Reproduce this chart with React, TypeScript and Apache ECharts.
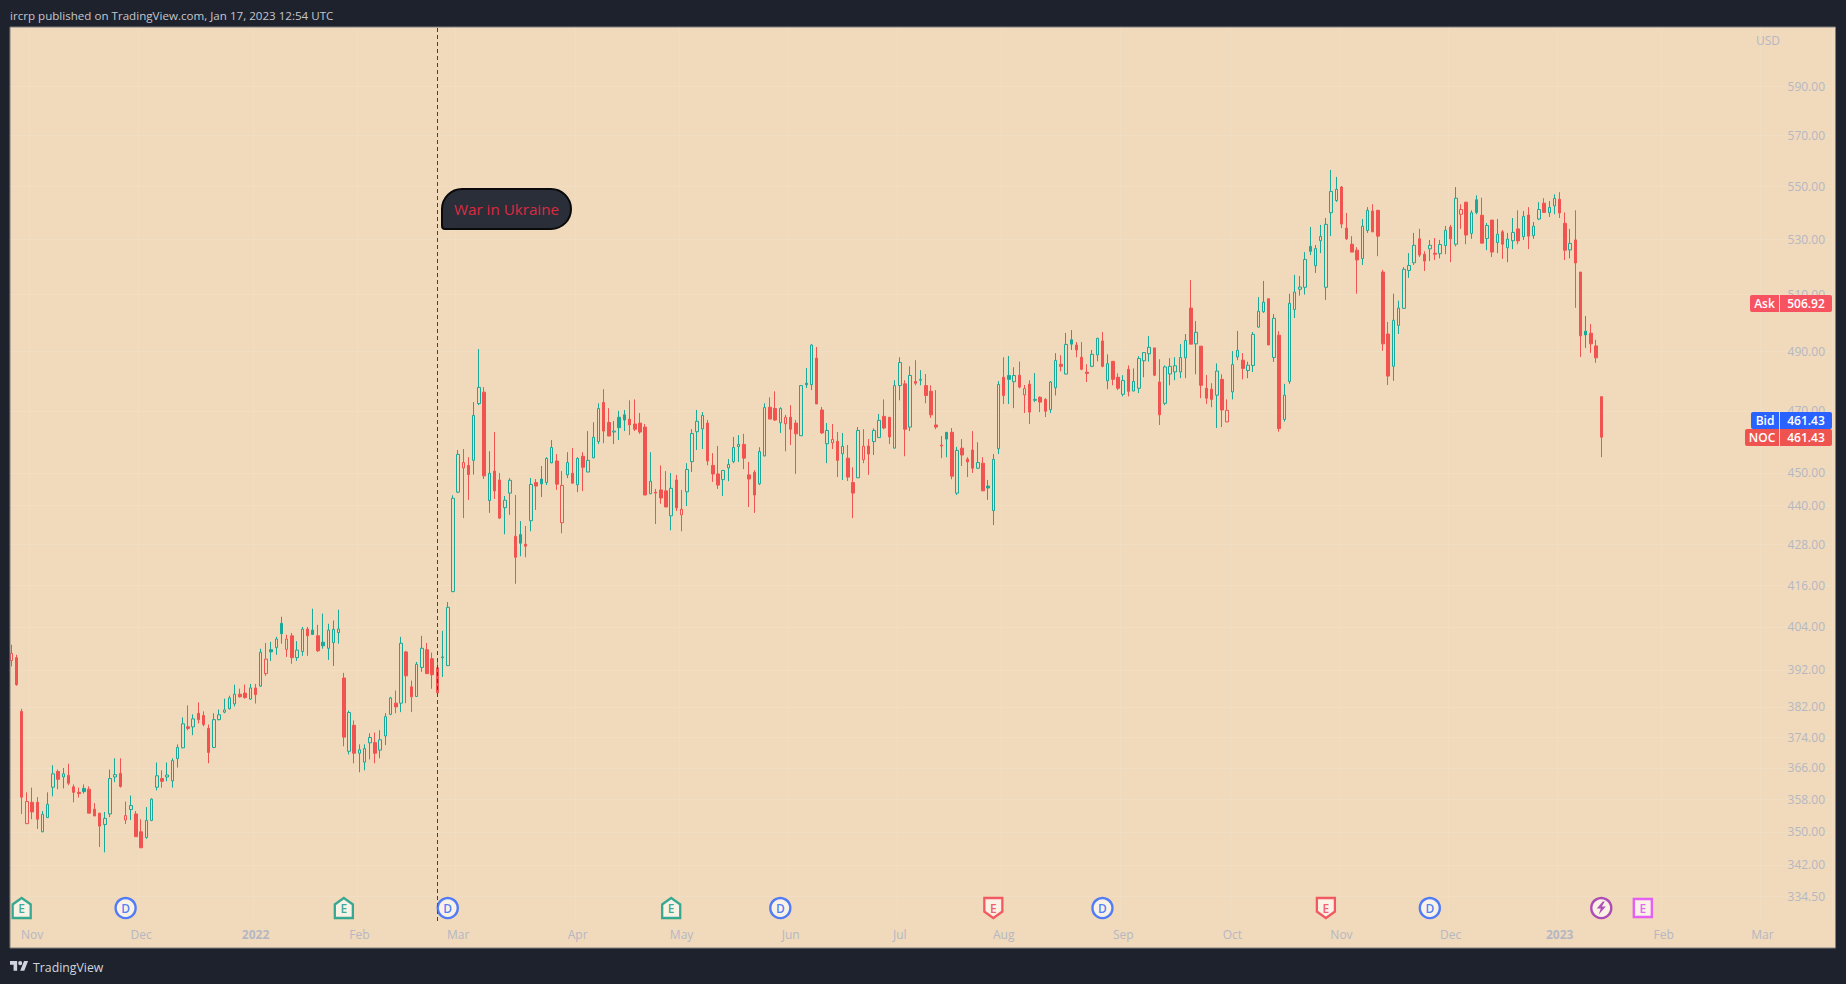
import React, { useEffect, useRef } from "react";
import * as echarts from "echarts";

// Each candle: [open, high, low, close]
const candlesLateOct2021ToNov: number[][] = [
  [394.6,399,393,396.6],[395.4,396.2,387.7,388],[380.8,381.5,354.4,358.6],[352,359.8,352,357.5],[357.3,361,353.1,354.9],
  [357.3,358.6,350.7,353.1],[350,355.1,349.9,354.3],[353.5,359.8,353.5,356.8],[361.1,366.7,358.8,364.5],[365.1,365.6,360.6,363.1],
  [363.7,366,360.8,364.5],[364.1,367.1,361.6,362.1],[361.2,361.8,357.3,359.8],[359.8,361,358.5,359.5],[360.8,361.8,359.5,360],
  [360.6,361.3,354.6,354.6],[355.6,357.1,353.9,353.9],[354.6,354.6,346.3,351.4],[351.8,354.9,345,353.3],[354.4,365.6,353.6,363.3],
  [363.7,368.5,362.4,364.3],[364.6,368.5,361,361.3],[352.9,357.5,351.9,354],[355.5,359,352.9,356.5],[354.4,355.1,348.8,348.8],
];
const candlesDec2021: number[][] = [
  [350,353.1,346.1,346.1],[348.6,356.1,348.3,352.8],[352.8,358.3,352.6,358.1],[361.1,367.4,360.3,364],[363.3,365.4,361,362.6],
  [363.7,367.4,362.6,364.2],[362.7,368.5,361,367.9],[368.4,372.1,366.1,371.3],[371.2,379.2,371.1,377.5],[376.7,382.4,375.8,376.3],
  [376.7,380,374.5,378.8],[380.3,383.2,377.6,378.6],[379.7,380.8,376.8,377.3],[376.3,377.3,367.2,370],[371.3,380.3,371.1,378.6],
  [378.6,381.3,378.4,379.9],[380.6,384.2,380.3,381.2],[381.5,385,381.3,384.4],[382.8,388,382.1,385.4],[385.4,386.9,384.5,384.7],
  [385.7,388,384.2,384.5],[384.1,388.2,383.9,387.1],
];
const candlesJan2022: number[][] = [
  [387.1,388.2,382.9,385.3],[387.6,397.9,387.4,396.9],[391,399.5,390.4,395],[397.6,399.8,394.5,397],[398.2,401.2,396.2,400.6],
  [405,406.9,399.3,402.1],[397.7,401.8,395.6,400.6],[401.5,402.3,393.7,395.4],[395.4,400,394.5,397.5],[397.1,404,395.9,403.4],
  [403.4,404,395.9,401.5],[403.1,409.2,401.8,401.9],[401.5,404.6,397,397.3],[399.7,407.8,397.9,398.7],[398,404.9,394.8,403.1],
  [399.6,405.8,393.1,403.3],[402.4,408.9,399.3,403.4],[389.8,391.2,371.6,374],[370.3,381,369.5,380.5],[377.1,378.4,367.2,369.8],
];
const candlesFeb2022: number[][] = [
  [369.8,372.1,364.9,370.7],[367.5,372.1,365.4,371],[372.5,375,368.2,373.9],[372.6,375.2,367.2,369.8],[370.6,375.8,368.5,373.3],
  [374.3,380.3,371.9,379.4],[380,384.7,379.8,384.4],[383,386.4,380.3,382],[383,401.2,380.6,399.4],[397,397.3,383,390.4],
  [387.4,389.1,380.6,384.7],[384.8,394.2,384.7,393.6],[392.7,401.5,391.5,398],[397.6,399.5,391,391],[395.1,396.8,386.9,390.7],
  [392.6,394.8,385.8,385.8],[395.4,402.9,390.1,395.6],[393.2,411.1,393.1,409.6],[414.1,443,414,442.1],
];
const candlesMar2022: number[][] = [
  [444,457.3,443.7,455.9],[451.6,457.6,436,453.3],[452.4,455,441.6,449.5],[454,472.9,449.5,468.5],[472.4,490.8,471.9,477.8],
  [476.2,477.9,448.1,449.1],[441.4,456.9,437.6,449.9],[450.6,463.1,441.9,444.4],[447.8,450,435.7,436],[439.2,442.8,431.1,441.5],
  [443.7,448.4,437,447.7],[430.5,443.1,416.4,424.2],[431,435.1,424.5,428.4],[428.1,433.6,424.2,427.5],[435.2,448.4,432,446.4],
  [447,448.1,438.5,445.9],[448.1,452.2,442.5,446.6],[447,455,446.2,454.6],[453.2,460.5,453.1,458.1],[453.8,456,444.7,446.5],
  [434.6,450.6,431.4,446.1],[449.4,456.6,448.4,453.3],[449.9,457.9,446.8,446.8],
];
const candlesApr2022: number[][] = [
  [446.3,455,444,454.6],[455.3,456.6,444.3,451.8],[450.3,463.4,450.3,454],[454.8,466.3,454.7,461.4],[460,472.5,459.2,470.8],
  [472.8,477.2,459.5,463.4],[466.2,470.9,461.8,461.8],[463.1,466.7,459.2,463.4],[467.9,470,460.5,464.5],[468.7,470.3,463.4,467],
  [467.3,473.5,462.1,465.4],[465.7,473.8,463.4,464],[466,469.3,462.5,463.1],[464.7,465.7,443.1,443.1],[443.5,456.6,443.4,447.4],
  [444,445,434.2,443.7],[444.7,452.4,440.4,442.2],[444.4,450.6,439.4,439.4],[436.7,450,432.3,445.2],[447.8,449.4,438.2,439.1],
];
const candlesMay2022: number[][] = [
  [437,444.7,432,438.7],[444.1,453.1,439.7,451.1],[453.6,464,450.3,462.6],[463.2,470.3,457.3,466.6],[464.1,469.6,457.6,468.5],
  [466,467,452.4,453.8],[452.4,456.3,447.2,449.7],[449.7,458.6,445,446.2],[447.9,450.9,442.8,450.8],[451.6,454.4,447.4,452.7],
  [453.6,461.5,453.1,458.1],[458.4,462.1,453.5,459.1],[459.1,462.5,451.2,454.7],[449.4,453.5,439.4,448.1],[450.2,450.9,437.6,443.1],
  [446.6,458.2,446.2,456.8],[455.4,472.5,455.3,471.1],[471.2,474.5,467.3,467.3],[470.8,476.5,466.7,467],[466.1,471.2,462.8,470.8],
  [465.8,468.7,456.9,467.9],
];
const candlesJun2022: number[][] = [
  [467.9,471.9,458.9,464],[466,467,449.7,462.5],[461.9,478.6,461.8,478.4],[479.2,484.3,477.6,478.7],[478.7,492.5,476.9,492.2],
  [487.7,491.5,472.3,472.3],[470.3,471.3,462.5,462.8],[459.3,466,453.1,463.6],[459.6,465.7,457.6,460.7],[460.1,463.1,448.7,454],
  [456.1,462.8,447.8,458.5],[454.7,458.9,447.5,448.7],[447,451.8,436,443.7],[448.5,464.7,448.4,463.6],[454.2,464,453.1,458.5],
  [458.6,460.8,449.4,456],[460,464.3,455.7,463.6],[461.3,469,461.2,466.9],[468.2,473.8,464,464.4],[467.9,467.9,459.2,461.5],
  [457.9,480.2,457.8,478.4],
];
const candlesJul2022: number[][] = [
  [478.4,488,473.5,486.2],[479,480.2,455.3,464],[464.7,484.9,463.4,481.8],[479.8,487,478.5,479.2],[480.2,483.6,478.5,480.5],
  [478.4,482.3,472.5,475.1],[476.5,478.5,467.7,468.7],[465.4,476.9,464,464.7],[458.9,461.8,454.7,458.6],[463,463.1,455,460.8],
  [463,464.4,448,449],[443.7,458.3,443.1,457.2],[457.9,460.8,452.2,455.7],[454.4,455,448.7,453.5],[457.3,463.4,450,451.5],
  [451.5,459.8,451.2,453.3],[453.1,455,444.4,444.4],[445.9,447.8,441.6,445.3],[438.3,456,433.9,454.3],[457.7,479.9,456,478.8],
];
const candlesAug2022: number[][] = [
  [481.2,488,472.3,475.1],[481.8,488.4,472.3,480.5],[479.7,484.6,470.9,481.8],[481.9,486.5,477.5,477.9],[475.3,478.6,469.3,477.4],
  [478.9,480.2,465.7,469.6],[473.5,482.6,472.9,473.8],[474.5,474.8,469.6,472.9],[473.8,474.2,468,469.9],[470.4,479.9,469.3,479.6],
  [477.7,489.4,475.1,486.9],[485.6,488.7,483.2,484.9],[482.3,496.4,482.2,492.4],[494,497.4,490.5,492.5],[492.2,493.2,488,490.5],
  [488,493.2,483.6,483.9],[482.9,485.6,479.6,482.5],[484.9,490.5,484.6,489],[488.8,494.7,486.6,494.5],[493.6,496.7,484.6,484.9],
  [480,489,477.2,485.8],[486.6,486.6,478.5,480.5],[481.2,482.5,476.9,477.5],
];
const candlesSep2022: number[][] = [
  [475.5,481.9,474.8,480.1],[483.9,485.2,474.8,476.5],[476.6,484.2,476.5,479.8],[477.5,488.4,475.9,487.6],[486.8,489.8,481.2,489.6],
  [489.2,495.3,486.5,491.4],[491.2,491.2,481.6,481.9],[479.6,487.3,465.4,468.7],[472.5,485.2,471.9,484.7],[482.3,487.7,478.5,484.9],
  [483,488,480.2,485.1],[483,492.5,480.9,487.9],[487.8,496,480.9,493.8],[505.1,515.1,492.5,492.5],[492.6,500.5,482.2,496.6],
  [491.8,491.8,474.2,478.5],[477.5,482,472.3,474.2],[477.2,479.2,471.2,473.8],[475.2,485.9,464.4,483.3],[480.5,482.2,464.7,470.3],
  [466.4,473.8,466.3,470.2],
];
const candlesOct2022: number[][] = [
  [476.3,490.1,473.8,485.5],[488.1,497.1,487,490.4],[487,489.4,480.5,484.2],[483.5,486.5,480.9,485.3],[485.2,496.7,483,495.9],
  [498.4,509,498.2,504],[503.8,514.8,503.4,507.2],[508.4,508.4,492.2,492.2],[487.9,503,486.4,501.5],[495.6,497,463.2,464.2],
  [467.2,479,466.5,475.2],[479.8,510.2,479,506.8],[504.6,517,501.6,510.8],[511.8,516.6,509.5,512.6],[512.5,525.3,509.9,522.6],
  [527.4,534.6,524.2,525.6],[520.3,527.9,517.7,526.6],[529.5,535.4,524.9,531.1],[512.5,538,508,535.6],[540,556.4,531.2,548.1],
  [544.6,553.7,544.1,548.9],
];
const candlesNov2022: number[][] = [
  [549.8,550.2,534.2,535.7],[534.2,539.9,529.8,530.2],[528.2,531.2,525.3,525.3],[526,527.1,510.2,522.4],[522.9,537.6,520.6,534.9],
  [533.3,542.1,532.4,540.9],[540.6,543.2,532.8,532.8],[540.9,540.9,523.8,531.2],[518,518.8,490.2,492.6],[496,500.2,478.6,481.6],
  [484.9,510.2,480,500.8],[499,507.7,496,505.1],[505,519.8,504.8,519],[518.6,524.9,515.9,520.4],[521.4,532.4,520.6,527.8],
  [530.2,533.9,523.5,524.2],[524.5,525.6,518.4,522],[526.5,529.8,522,527.8],[524.9,530.5,522.4,524.5],[524.7,529.8,523,528.1],
  [527.7,535,524.5,533.4],
];
const candlesDec2022: number[][] = [
  [534.6,535.4,521.6,530.2],[528.2,549.8,527.4,545.5],[539.4,543.2,533.9,541.2],[544,544,528.2,531.6],[532.2,540.9,530.2,540],
  [544.9,546.6,539.4,540.1],[539,545.7,528.6,528.6],[530.3,536.1,526,535.2],[537.2,537.2,523.5,525.3],[528.8,537.6,524.9,531.9],
  [532.8,533.5,522.8,528.2],[526.9,532.4,521.6,530.1],[529.5,538,526.4,532.6],[533.9,540.9,528.2,529.4],[531,540.6,529.8,538.6],
  [539.1,542.1,526.4,531.2],[531.4,536.5,530.2,534.9],[537.6,544,537.2,541.2],[543.6,545.5,540.1,540.1],[540,544.4,538.4,542],
  [542.6,547,539.4,545.4],
];
const candlesJan2023: number[][] = [
  [545.1,547.8,538,539.9],[536,540.1,522.4,526],[526.1,533.9,523,528.5],[529.8,540.9,505.2,521.3],[518,518,488.1,495.4],
  [497,502.3,491.2,495.7],[496.3,499.5,489.5,492.6],[491.9,494,486.1,487.8],[474.7,474.7,455,461.43],
];

const candles = [
  ...candlesLateOct2021ToNov, ...candlesDec2021, ...candlesJan2022, ...candlesFeb2022, ...candlesMar2022,
  ...candlesApr2022, ...candlesMay2022, ...candlesJun2022, ...candlesJul2022, ...candlesAug2022,
  ...candlesSep2022, ...candlesOct2022, ...candlesNov2022, ...candlesDec2022, ...candlesJan2023,
];

const slotCount = 351;
const monthLabels = ["Nov","Dec","2022","Feb","Mar","Apr","May","Jun","Jul","Aug","Sep","Oct","Nov","Dec","2023","Feb","Mar"];
const monthSlots = [4,25,47,67,86,109,129,150,171,191,214,235,256,277,298,318,337];
const priceTicks = [590,570,550,530,510,490,470,450,440,428,416,404,392,382,374,366,358,350,342,334.5];
const warSlot = 82;

const eventSlots = [2,22,64,84,127,148,189,210,253,273,306,314];
const eventKinds = ["Eg","D","Eg","D","Eg","D","Er","D","Er","D","S","Em"];
const eventRowPrice = 331.8;

const askPrice = "506.92";
const bidPrice = "461.43";
const lastPrice = "461.43";

const UP = "#1aa89a";
const DOWN = "#f05350";
const FONT = "'Open Sans', sans-serif";
const AXIS_TEXT = "#b5b7c3";

const HOUSE_UP = "path://M10 0 L20 7 L20 22 L0 22 L0 7 Z";
const HOUSE_DOWN = "path://M0 0 L20 0 L20 15 L10 22 L0 15 Z";
const BOLT = "path://M6 0 L0 7 L4 7 L2 13 L9 5 L5 5 L8 0 Z";

function eventStyle(kind: string) {
  if (kind === "Eg") return { symbol: HOUSE_UP, size: [18, 20], color: "#089981", text: "E" };
  if (kind === "Er") return { symbol: HOUSE_DOWN, size: [18, 20], color: "#f23645", text: "E" };
  if (kind === "Em") return { symbol: "rect", size: [18, 18], color: "#e040fb", text: "E" };
  if (kind === "S") return { symbol: "circle", size: [20, 20], color: "#9c27b0", text: "" };
  return { symbol: "circle", size: [20, 20], color: "#2962ff", text: "D" };
}

echarts.graphic.registerShape(
  "tvLogo",
  echarts.graphic.extendPath("M14 22H7V11H0V4h14v18zM28 22h-8l7.5-18h8L28 22zM24 8a4 4 0 1 1-8 0 4 4 0 0 1 8 0z", {})
);

function tag(label: string, value: string, y: number, labelX: number, fill: string) {
  const h = 17;
  return [
    { type: "rect", z: 40, shape: { x: labelX, y, width: 1779 - labelX, height: h, r: [2, 0, 0, 2] }, style: { fill } },
    { type: "rect", z: 40, shape: { x: 1780, y, width: 52, height: h, r: [0, 2, 2, 0] }, style: { fill } },
    { type: "text", z: 41, x: (labelX + 1779) / 2, y: y + h / 2, style: { text: label, fill: "#fff", font: `600 12px ${FONT}`, align: "center", verticalAlign: "middle" } },
    { type: "text", z: 41, x: 1806, y: y + h / 2, style: { text: value, fill: "#fff", font: `600 12px ${FONT}`, align: "center", verticalAlign: "middle" } },
  ];
}

export default function App() {
  const ref = useRef<HTMLDivElement>(null);
  useEffect(() => {
    if (!ref.current) return;
    document.body.style.margin = "0";
    const chart = echarts.init(ref.current, undefined, { renderer: "svg" });

    const categories = Array.from({ length: slotCount }, (_, i) => {
      const k = monthSlots.indexOf(i);
      return k >= 0 ? monthLabels[k] : "";
    });

    const candleData = candles.map(([o, h, l, c], i) => {
      const prev = i > 0 ? candles[i - 1][3] : Infinity;
      const col = c >= prev ? UP : DOWN;
      const fill = c >= o ? "transparent" : col;
      return {
        value: [o, c, l, h],
        itemStyle: { color: fill, color0: fill, colorDoji: fill, borderColor: col, borderColor0: col, borderColorDoji: col },
      };
    });

    const eventData = eventSlots.map((slot, i) => {
      const s = eventStyle(eventKinds[i]);
      return {
        value: [slot, eventRowPrice],
        symbol: s.symbol,
        symbolSize: s.size,
        itemStyle: { color: "#fdf8f0", borderColor: s.color, borderWidth: 2.4 },
        label: { show: s.text !== "", formatter: s.text, position: "inside", color: s.color, fontSize: 12, fontFamily: FONT, fontWeight: 600 },
      };
    });

    chart.setOption({
      animation: false,
      backgroundColor: "#1e222d",
      grid: { left: 8.7, top: 27, width: 1823.8, height: 894 },
      xAxis: {
        type: "category",
        data: categories,
        boundaryGap: true,
        axisLine: { show: false },
        axisTick: { show: false, alignWithLabel: true, interval: 0 },
        axisLabel: {
          interval: 0,
          margin: 7,
          color: AXIS_TEXT,
          fontFamily: FONT,
          fontSize: 12,
          hideOverlap: false,
          formatter: (v: string) => (/^\d{4}$/.test(v) ? `{y|${v}}` : v),
          rich: { y: { color: AXIS_TEXT, fontFamily: FONT, fontSize: 12, fontWeight: "bold" } },
        },
        splitLine: {
          show: true,
          interval: (_: number, v: string) => v !== "",
          lineStyle: { color: "rgba(255,255,255,0.09)", width: 1 },
        },
      },
      yAxis: {
        type: "log",
        position: "right",
        logBase: 10,
        min: 328.8,
        max: 615,
        scale: true,
        axisLine: { show: false },
        axisTick: { show: false, customValues: priceTicks },
        axisLabel: {
          inside: true,
          margin: 7.5,
          customValues: priceTicks,
          color: AXIS_TEXT,
          fontFamily: FONT,
          fontSize: 12,
          formatter: (v: number) => Number(v).toFixed(2),
        },
        splitLine: { show: true, lineStyle: { color: "rgba(255,255,255,0.09)", width: 1 } },
        minorTick: { show: false },
        minorSplitLine: { show: false },
      },
      series: [
        {
          type: "candlestick",
          data: candleData,
          barWidth: 3,
          itemStyle: { borderWidth: 1 },
          markLine: {
            silent: true,
            symbol: ["none", "none"],
            label: { show: false },
            lineStyle: { color: "#9c1c1c", type: [4, 3], width: 1 },
            data: [{ xAxis: warSlot }],
          },
        },
        { type: "scatter", data: eventData, z: 20, silent: true },
        {
          type: "scatter",
          z: 21,
          silent: true,
          symbol: BOLT,
          symbolSize: [9, 13],
          itemStyle: { color: "#9c27b0" },
          data: eventSlots.filter((_, i) => eventKinds[i] === "S").map((slot) => [slot, eventRowPrice]),
        },
      ],
      graphic: [
        { type: "rect", z: -1, silent: true, shape: { x: 10, y: 27, width: 1825.5, height: 921 }, style: { fill: "#f0dabb" } },
        { type: "rect", z: 30, silent: true, shape: { x: 10, y: 27, width: 1825.5, height: 921 }, style: { fill: "none", stroke: "#7f7f7f", lineWidth: 1 } },
        { type: "text", x: 10, y: 15, style: { text: "ircrp published on TradingView.com, Jan 17, 2023 12:54 UTC", fill: "#c3c6ce", font: `11.6px ${FONT}`, verticalAlign: "middle" } },
        { type: "text", x: 1768, y: 40, style: { text: "USD", fill: AXIS_TEXT, font: `12px ${FONT}`, align: "center", verticalAlign: "middle" } },
        { type: "tvLogo", x: 10, y: 959, scaleX: 0.51, scaleY: 0.53, style: { fill: "#d1d4dc" } },
        { type: "text", x: 33, y: 967, style: { text: "TradingView", fill: "#d1d4dc", font: `12.3px ${FONT}`, verticalAlign: "middle" } },
        {
          type: "rect", z: 35,
          shape: { x: 442, y: 189, width: 129, height: 40, r: [20, 20, 20, 3] },
          style: { fill: "#2a2e39", stroke: "#0a0a0a", lineWidth: 2 },
        },
        { type: "text", z: 36, x: 506.5, y: 209, style: { text: "War in Ukraine", fill: "#dc2a40", font: `15.2px ${FONT}`, align: "center", verticalAlign: "middle" } },
        ...tag("Ask", askPrice, 295, 1750, "#f7525f"),
        ...tag("Bid", bidPrice, 412, 1751, "#2962ff"),
        ...tag("NOC", lastPrice, 429, 1745, "#ef5350"),
      ],
    });
    return () => chart.dispose();
  }, []);
  return <div ref={ref} style={{ position: "fixed", left: 0, top: 0, width: 1846, height: 984 }} />;
}
